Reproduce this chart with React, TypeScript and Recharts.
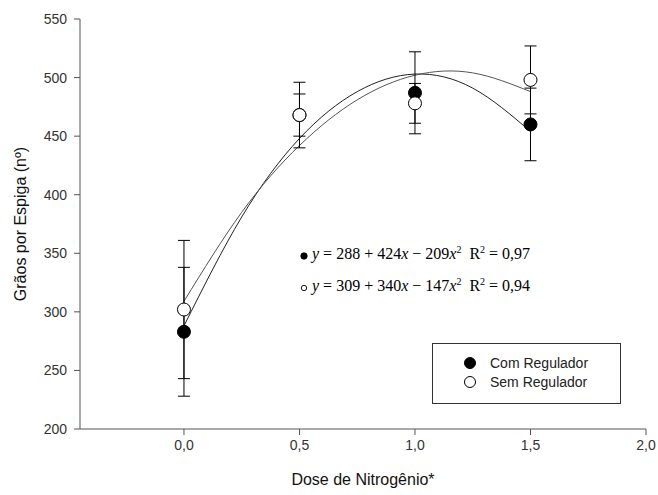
import { ComposedChart, Line, Scatter, ErrorBar, XAxis, YAxis, Label } from 'recharts'

// médias observadas e erros por dose
const doses = [0, 0.5, 1, 1.5]
const comMeans = [283, 468, 487, 460]
const comErrors = [55, 28, 35, 31]
const semMeans = [302, 468, 478, 498]
const semErrors = [59, 18, 17, 29]

// curvas ajustadas
const fitDoses = [0, 0.25, 0.5, 0.75, 1, 1.25, 1.5]
const comFit = [288, 381, 448, 488, 503, 491, 454]
const semFit = [309, 385, 442, 481, 502, 504, 488]

const xTicks = [0, 0.5, 1, 1.5, 2]
const yTicks = [200, 250, 300, 350, 400, 450, 500, 550]

const legendItems = [
  { name: 'Com Regulador', fill: '#000' },
  { name: 'Sem Regulador', fill: '#fff' },
]

const comPoints = doses.map((x, i) => ({ x, y: comMeans[i], err: comErrors[i] }))
const semPoints = doses.map((x, i) => ({ x, y: semMeans[i], err: semErrors[i] }))
const comCurve = fitDoses.map((x, i) => ({ x, y: comFit[i] }))
const semCurve = fitDoses.map((x, i) => ({ x, y: semFit[i] }))

const sans = '"Liberation Sans", Arial, sans-serif'
const serif = '"Liberation Serif", "Times New Roman", serif'

const dot = (fill: string) => (props: any) => (
  <circle cx={props.cx} cy={props.cy} r={6.5} fill={fill} stroke="#000" strokeWidth={1} />
)

function LegendBox() {
  return (
    <div
      style={{
        position: 'absolute',
        left: 432,
        top: 343,
        border: '1px solid #333',
        width: 189,
        height: 61,
        boxSizing: 'border-box',
        padding: '9px 0 0 30px',
        fontFamily: sans,
        fontSize: 14,
        color: '#222',
        background: '#fff',
      }}
    >
      {legendItems.map((r) => (
        <div key={r.name} style={{ display: 'flex', alignItems: 'center', height: 19 }}>
          <svg width={14} height={14} style={{ marginRight: 13 }}>
            <circle cx={7} cy={7} r={5.5} fill={r.fill} stroke="#000" strokeWidth={1} />
          </svg>
          {r.name}
        </div>
      ))}
    </div>
  )
}

const sup = { fontSize: 10 }
const mark = (fill: string) => (
  <svg width={8} height={8} style={{ marginRight: 4, verticalAlign: 'middle' }}>
    <circle cx={4} cy={4} r={fill === '#000' ? 3.2 : 2.7} fill={fill} stroke="#000" strokeWidth={0.9} />
  </svg>
)

export default function App() {
  return (
    <div style={{ position: 'absolute', left: 0, top: 0, width: 658, height: 495, background: '#fff' }}>
      <ComposedChart width={658} height={495} margin={{ top: 19, right: 12, bottom: 0, left: 0 }}>
        <XAxis
          type="number"
          dataKey="x"
          domain={[-0.45, 2]}
          ticks={xTicks}
          allowDataOverflow
          height={66}
          tickSize={6}
          tickMargin={5}
          stroke="#555"
          tick={{ fill: '#333', fontSize: 14, fontFamily: sans }}
          tickFormatter={(v) => v.toFixed(1).replace('.', ',')}
        >
          <Label
            value="Dose de Nitrogênio*"
            position="insideBottom"
            offset={10}
            style={{ fill: '#111', fontSize: 16, fontFamily: sans }}
          />
        </XAxis>
        <YAxis
          type="number"
          domain={[200, 550]}
          ticks={yTicks}
          width={80}
          tickSize={6}
          tickMargin={7}
          stroke="#555"
          tick={{ fill: '#333', fontSize: 14, fontFamily: sans }}
        >
          <Label
            content={({ viewBox }: any) => {
              const cy = viewBox.y + viewBox.height / 2
              return (
                <text
                  x={20}
                  y={cy}
                  transform={`rotate(-90, 20, ${cy})`}
                  textAnchor="middle"
                  dominantBaseline="central"
                  style={{ fill: '#111', fontSize: 16, fontFamily: sans }}
                >
                  Grãos por Espiga (nº)
                </text>
              )
            }}
          />
        </YAxis>
        <Line
          data={comCurve}
          dataKey="y"
          type="natural"
          stroke="#222"
          strokeWidth={1}
          dot={false}
          isAnimationActive={false}
        />
        <Line
          data={semCurve}
          dataKey="y"
          type="natural"
          stroke="#555"
          strokeWidth={1}
          dot={false}
          isAnimationActive={false}
        />
        <Scatter data={comPoints} dataKey="y" shape={dot('#000')} isAnimationActive={false}>
          <ErrorBar dataKey="err" direction="y" width={6} stroke="#000" strokeWidth={1} />
        </Scatter>
        <Scatter data={semPoints} dataKey="y" shape={dot('#fff')} isAnimationActive={false}>
          <ErrorBar dataKey="err" direction="y" width={6} stroke="#000" strokeWidth={1} />
        </Scatter>
      </ComposedChart>
      <LegendBox />
      <div
        style={{
          position: 'absolute',
          left: 300,
          top: 236,
          fontFamily: serif,
          fontSize: 16,
          color: '#000',
          lineHeight: '28px',
          whiteSpace: 'nowrap',
        }}
      >
        <div>
          {mark('#000')}
          <i>y</i> = 288 + 424<i>x</i> − 209<i>x</i>
          <sup style={sup}>2</sup>&nbsp; R<sup style={sup}>2</sup> = 0,97
        </div>
        <div>
          {mark('#fff')}
          <i>y</i> = 309 + 340<i>x</i> − 147<i>x</i>
          <sup style={sup}>2</sup>&nbsp; R<sup style={sup}>2</sup> = 0,94
        </div>
      </div>
    </div>
  )
}
